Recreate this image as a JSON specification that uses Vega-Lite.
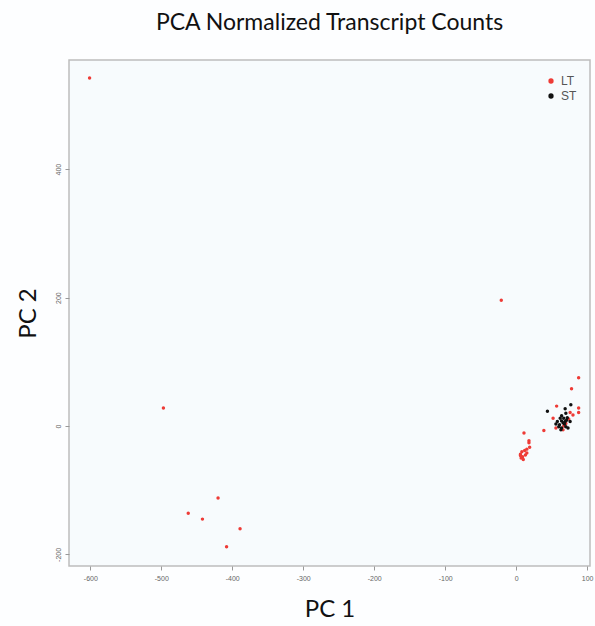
{
  "$schema": "https://vega.github.io/schema/vega-lite/v6.json",
  "width": 521,
  "height": 506,
  "autosize": {"type": "none"},
  "padding": {"left": 69, "top": 60, "right": 5, "bottom": 60},
  "background": "#fdfeff",
  "title": {
    "text": "PCA Normalized Transcript Counts",
    "font": "Lato",
    "fontSize": 23,
    "fontWeight": "normal",
    "color": "#111111",
    "anchor": "middle",
    "offset": 25
  },
  "config": {
    "view": {"fill": "#f7fbfd", "stroke": "#bdbdbd", "strokeWidth": 1.5}
  },
  "data": {
    "values": [
      {"pc1": -601, "pc2": 542, "group": "LT"},
      {"pc1": -21, "pc2": 196, "group": "LT"},
      {"pc1": -497, "pc2": 28, "group": "LT"},
      {"pc1": -420, "pc2": -112, "group": "LT"},
      {"pc1": -462, "pc2": -136, "group": "LT"},
      {"pc1": -442, "pc2": -145, "group": "LT"},
      {"pc1": -389, "pc2": -160, "group": "LT"},
      {"pc1": -408, "pc2": -188, "group": "LT"},
      {"pc1": 88, "pc2": 75, "group": "LT"},
      {"pc1": 78, "pc2": 58, "group": "LT"},
      {"pc1": 57, "pc2": 31, "group": "LT"},
      {"pc1": 88, "pc2": 28, "group": "LT"},
      {"pc1": 88, "pc2": 21, "group": "LT"},
      {"pc1": 76, "pc2": 21, "group": "LT"},
      {"pc1": 52, "pc2": 12, "group": "LT"},
      {"pc1": 80, "pc2": 17, "group": "LT"},
      {"pc1": 74, "pc2": 11, "group": "LT"},
      {"pc1": 70, "pc2": 4, "group": "LT"},
      {"pc1": 67, "pc2": 0, "group": "LT"},
      {"pc1": 56, "pc2": -3, "group": "LT"},
      {"pc1": 66, "pc2": -6, "group": "LT"},
      {"pc1": 39, "pc2": -7, "group": "LT"},
      {"pc1": 11, "pc2": -11, "group": "LT"},
      {"pc1": 18, "pc2": -23, "group": "LT"},
      {"pc1": 18, "pc2": -26, "group": "LT"},
      {"pc1": 19, "pc2": -33, "group": "LT"},
      {"pc1": 15, "pc2": -36, "group": "LT"},
      {"pc1": 12, "pc2": -38, "group": "LT"},
      {"pc1": 8, "pc2": -40, "group": "LT"},
      {"pc1": 6, "pc2": -44, "group": "LT"},
      {"pc1": 6, "pc2": -46, "group": "LT"},
      {"pc1": 9, "pc2": -48, "group": "LT"},
      {"pc1": 13, "pc2": -45, "group": "LT"},
      {"pc1": 15, "pc2": -42, "group": "LT"},
      {"pc1": 10, "pc2": -52, "group": "LT"},
      {"pc1": 7, "pc2": -50, "group": "LT"},
      {"pc1": 44, "pc2": 23, "group": "ST"},
      {"pc1": 77, "pc2": 33, "group": "ST"},
      {"pc1": 69, "pc2": 27, "group": "ST"},
      {"pc1": 70, "pc2": 20, "group": "ST"},
      {"pc1": 64, "pc2": 16, "group": "ST"},
      {"pc1": 62, "pc2": 12, "group": "ST"},
      {"pc1": 67, "pc2": 12, "group": "ST"},
      {"pc1": 72, "pc2": 13, "group": "ST"},
      {"pc1": 58, "pc2": 7, "group": "ST"},
      {"pc1": 64, "pc2": 8, "group": "ST"},
      {"pc1": 69, "pc2": 7, "group": "ST"},
      {"pc1": 61, "pc2": 2, "group": "ST"},
      {"pc1": 68, "pc2": 3, "group": "ST"},
      {"pc1": 64, "pc2": -3, "group": "ST"},
      {"pc1": 63, "pc2": -6, "group": "ST"},
      {"pc1": 73, "pc2": -3, "group": "ST"},
      {"pc1": 76, "pc2": 7, "group": "ST"},
      {"pc1": 56, "pc2": 3, "group": "ST"},
      {"pc1": 60, "pc2": -1, "group": "ST"},
      {"pc1": 66, "pc2": 5, "group": "ST"},
      {"pc1": 70, "pc2": -1, "group": "ST"},
      {"pc1": 71, "pc2": 9, "group": "ST"}
    ]
  },
  "mark": {"type": "circle", "size": 12, "opacity": 1},
  "encoding": {
    "x": {
      "field": "pc1",
      "type": "quantitative",
      "scale": {"domain": [-630, 104], "nice": false, "zero": false},
      "axis": {
        "title": "PC 1",
        "titleFont": "Lato",
        "titleFontSize": 24,
        "titleFontWeight": "normal",
        "titleColor": "#111111",
        "titlePadding": 16,
        "values": [-600, -500, -400, -300, -200, -100, 0, 100],
        "labelExpr": "replace(datum.label, '\u2212', '-')",
        "grid": false,
        "domain": false,
        "tickColor": "#999999",
        "tickSize": 4,
        "labelFont": "Liberation Sans",
        "labelFontSize": 7,
        "labelColor": "#666666",
        "labelPadding": 4
      }
    },
    "y": {
      "field": "pc2",
      "type": "quantitative",
      "scale": {"domain": [-218, 570], "nice": false, "zero": false},
      "axis": {
        "title": "PC 2",
        "titleFont": "Lato",
        "titleFontSize": 24,
        "titleFontWeight": "normal",
        "titleColor": "#111111",
        "titlePadding": 14,
        "values": [-200, 0, 200, 400],
        "labelExpr": "replace(datum.label, '\u2212', '-')",
        "grid": false,
        "domain": false,
        "tickColor": "#999999",
        "tickSize": 4,
        "labelFont": "Liberation Sans",
        "labelFontSize": 7,
        "labelColor": "#666666",
        "labelAngle": -90,
        "labelAlign": "center",
        "labelBaseline": "bottom",
        "labelPadding": 4
      }
    },
    "color": {
      "field": "group",
      "type": "nominal",
      "scale": {"domain": ["LT", "ST"], "range": ["#ee3b36", "#111111"]},
      "legend": {
        "title": null,
        "orient": "none",
        "legendX": 476,
        "legendY": 15,
        "symbolType": "circle",
        "symbolSize": 28,
        "symbolStrokeWidth": 0,
        "labelFont": "Liberation Sans",
        "labelFontSize": 12,
        "labelColor": "#555555",
        "rowPadding": 3,
        "padding": 0
      }
    }
  }
}
